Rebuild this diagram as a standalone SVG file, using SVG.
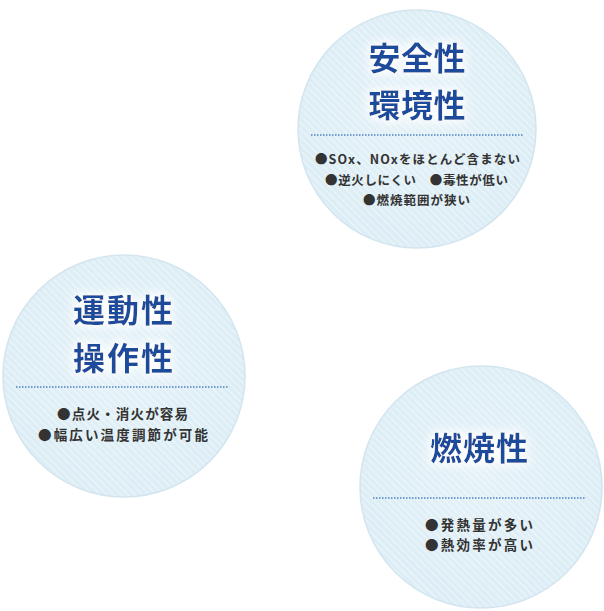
<svg xmlns="http://www.w3.org/2000/svg" width="604" height="611" viewBox="0 0 604 611">
  <style>
    .circle { fill: url(#stripes); stroke: #d2e5ef; stroke-width: 1.5; }
    .glow { fill: url(#centerGlow); }
    .title { font-family: "Noto Sans CJK JP", "Noto Sans CJK SC", sans-serif; font-weight: 700; font-size: 32px; fill: #1b4c9c; text-anchor: middle; filter: url(#halo); }
    .body { font-family: "Noto Sans CJK JP", "Noto Sans CJK SC", sans-serif; font-weight: 700; font-size: 12.5px; fill: #333333; text-anchor: middle; }
    .body2 { font-size: 13.5px; }
    .dots { stroke: #4f83c3; stroke-width: 1.5; stroke-dasharray: 1.5 1.5; fill: none; }
  </style>
  <defs>
    <pattern id="stripes" patternUnits="userSpaceOnUse" width="5" height="5" patternTransform="rotate(-45)">
      <rect width="5" height="5" fill="#dcedf5"/>
      <rect width="1.6" height="5" fill="#e9f4f9"/>
    </pattern>
    <radialGradient id="centerGlow" cx="50%" cy="45%" r="50%">
      <stop offset="0" stop-color="#ffffff" stop-opacity="0.25"/>
      <stop offset="1" stop-color="#ffffff" stop-opacity="0"/>
    </radialGradient>
    <filter id="halo" x="-20%" y="-40%" width="140%" height="180%">
      <feMorphology in="SourceAlpha" operator="dilate" radius="2" result="d"/>
      <feGaussianBlur in="d" stdDeviation="4" result="b"/>
      <feFlood flood-color="#ffffff" flood-opacity="1"/>
      <feComposite in2="b" operator="in" result="w"/>
      <feMerge>
        <feMergeNode in="w"/>
        <feMergeNode in="SourceGraphic"/>
      </feMerge>
    </filter>
  </defs>

  <g id="node-safety">
    <circle class="circle" cx="417" cy="129" r="119"/>
    <circle class="glow" cx="417" cy="129" r="119"/>
    <text class="title" x="417" y="70" textLength="97" lengthAdjust="spacing">安全性</text>
    <text class="title" x="417" y="117" textLength="97" lengthAdjust="spacing">環境性</text>
    <line class="dots" x1="311" y1="135" x2="523" y2="135"/>
    <text class="body" x="417.5" y="164" textLength="205" lengthAdjust="spacing">●SOx、NOxをほとんど含まない</text>
    <text class="body" x="416.5" y="185" textLength="183" lengthAdjust="spacing">●逆火しにくい　●毒性が低い</text>
    <text class="body" x="416.5" y="205" textLength="107" lengthAdjust="spacing">●燃焼範囲が狭い</text>
  </g>

  <g id="node-operability">
    <circle class="circle" cx="124" cy="376" r="121"/>
    <circle class="glow" cx="124" cy="376" r="121"/>
    <text class="title" x="123" y="322" textLength="100" lengthAdjust="spacing">運動性</text>
    <text class="title" x="123" y="370" textLength="100" lengthAdjust="spacing">操作性</text>
    <line class="dots" x1="16" y1="387" x2="229" y2="387"/>
    <text class="body body2" x="122.5" y="419" textLength="131" lengthAdjust="spacing">●点火・消火が容易</text>
    <text class="body body2" x="123" y="440" textLength="170" lengthAdjust="spacing">●幅広い温度調節が可能</text>
  </g>

  <g id="node-combustion">
    <circle class="circle" cx="481" cy="487" r="121"/>
    <circle class="glow" cx="481" cy="487" r="121"/>
    <text class="title" x="479" y="460" textLength="98" lengthAdjust="spacing">燃焼性</text>
    <line class="dots" x1="373" y1="498" x2="586" y2="498"/>
    <text class="body body2" x="479" y="530" textLength="108" lengthAdjust="spacing">●発熱量が多い</text>
    <text class="body body2" x="479" y="550" textLength="108" lengthAdjust="spacing">●熱効率が高い</text>
  </g>

  <g id="connectors"/>
</svg>
